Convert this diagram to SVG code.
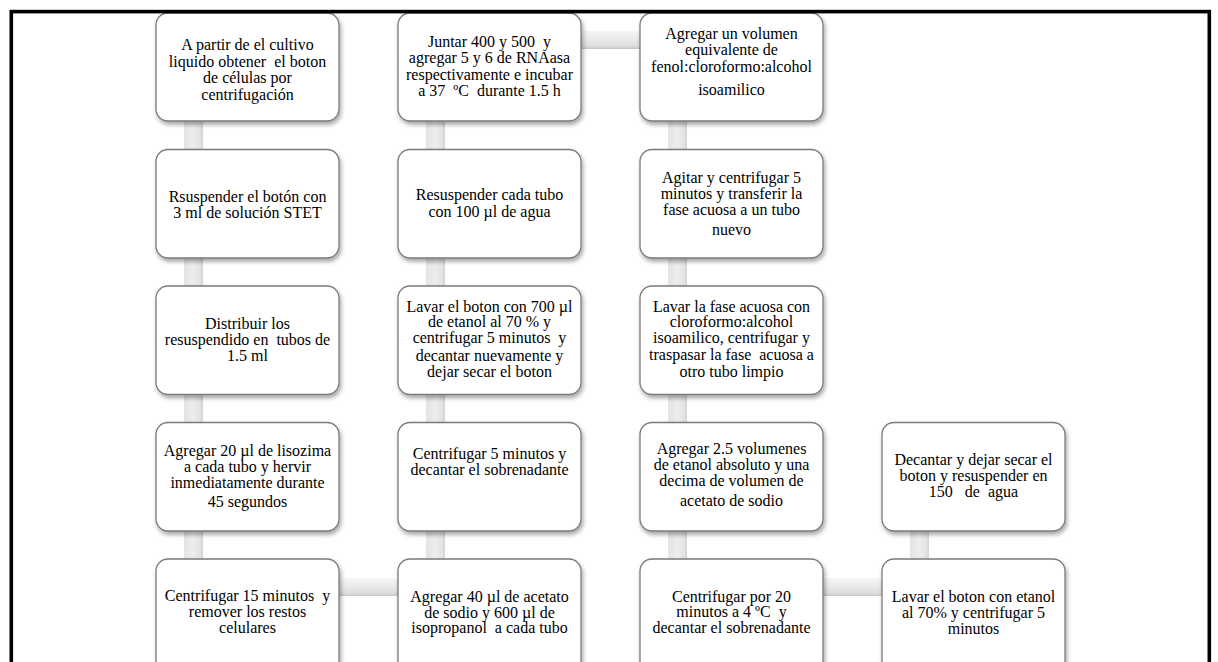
<svg xmlns="http://www.w3.org/2000/svg" width="1218" height="662" viewBox="0 0 1218 662" xml:space="preserve">
<defs>
<style>
.box{fill:#ffffff;stroke:#7a7a7a;stroke-width:1.3;filter:url(#sh)}
.t{font-family:"Liberation Serif","Times New Roman",serif;font-size:16px;fill:#000;text-anchor:middle;white-space:pre}
.cv{fill:url(#gv)}
.ch{fill:url(#gh)}
.ev{stroke:#cdcdcd;stroke-width:1}
</style>
<filter id="sh" x="-10%" y="-10%" width="125%" height="130%">
<feDropShadow dx="1.5" dy="3" stdDeviation="2" flood-color="#000" flood-opacity="0.35"/>
</filter>
<linearGradient id="gv" x1="0" y1="0" x2="1" y2="0">
<stop offset="0" stop-color="#e4e4e4"/>
<stop offset="0.5" stop-color="#ededed"/>
<stop offset="0.85" stop-color="#e3e3e3"/>
<stop offset="1" stop-color="#d2d2d2"/>
</linearGradient>
<linearGradient id="gh" x1="0" y1="0" x2="0" y2="1">
<stop offset="0" stop-color="#f6f6f6"/>
<stop offset="0.6" stop-color="#e6e6e6"/>
<stop offset="0.88" stop-color="#dadada"/>
<stop offset="1" stop-color="#c4c4c4"/>
</linearGradient>
</defs>
<rect x="0" y="0" width="1218" height="662" fill="#ffffff"/>
<g id="connectors">
<rect class="cv" x="184" y="115" width="19" height="40"/>
<rect class="cv" x="184" y="252" width="19" height="40"/>
<rect class="cv" x="184" y="388" width="19" height="40"/>
<rect class="cv" x="184" y="525" width="19" height="40"/>
<rect class="ch" x="335" y="578" width="68" height="18"/>
<rect class="cv" x="426" y="115" width="19" height="40"/>
<rect class="cv" x="426" y="252" width="19" height="40"/>
<rect class="cv" x="426" y="388" width="19" height="40"/>
<rect class="cv" x="426" y="525" width="19" height="40"/>
<rect class="ch" x="577" y="31" width="68" height="18"/>
<rect class="cv" x="668" y="115" width="19" height="40"/>
<rect class="cv" x="668" y="252" width="19" height="40"/>
<rect class="cv" x="668" y="388" width="19" height="40"/>
<rect class="cv" x="668" y="525" width="19" height="40"/>
<rect class="ch" x="819" y="578" width="68" height="18"/>
<rect class="cv" x="910" y="525" width="19" height="40"/>
</g>
<g id="n1"><rect class="box" x="156" y="13" width="183" height="108" rx="12"/>
<text class="t" x="247.5" y="49.5">A partir de el cultivo</text>
<text class="t" x="247.5" y="66.5">liquido obtener  el boton</text>
<text class="t" x="247.5" y="83">de células por</text>
<text class="t" x="247.5" y="100">centrifugación</text></g>
<g id="n2"><rect class="box" x="156" y="149.5" width="183" height="108.5" rx="12"/>
<text class="t" x="247.5" y="202">Rsuspender el botón con</text>
<text class="t" x="247.5" y="218">3 ml de solución STET</text></g>
<g id="n3"><rect class="box" x="156" y="286" width="183" height="108.5" rx="12"/>
<text class="t" x="247.5" y="329">Distribuir los</text>
<text class="t" x="247.5" y="345">resuspendido en  tubos de</text>
<text class="t" x="247.5" y="361">1.5 ml</text></g>
<g id="n4"><rect class="box" x="156" y="422.5" width="183" height="108.5" rx="12"/>
<text class="t" x="247.5" y="456">Agregar 20 µl de lisozima</text>
<text class="t" x="247.5" y="472">a cada tubo y hervir</text>
<text class="t" x="247.5" y="488">inmediatamente durante</text>
<text class="t" x="247.5" y="507">45 segundos</text></g>
<g id="n5"><rect class="box" x="156" y="559" width="183" height="120" rx="12"/>
<text class="t" x="247.5" y="601">Centrifugar 15 minutos  y</text>
<text class="t" x="247.5" y="617">remover los restos</text>
<text class="t" x="247.5" y="633">celulares</text></g>
<g id="n6"><rect class="box" x="398" y="559" width="183" height="120" rx="12"/>
<text class="t" x="489.5" y="601.5">Agregar 40 µl de acetato</text>
<text class="t" x="489.5" y="617.5">de sodio y 600 µl de</text>
<text class="t" x="489.5" y="633">isopropanol  a cada tubo</text></g>
<g id="n7"><rect class="box" x="398" y="422.5" width="183" height="108.5" rx="12"/>
<text class="t" x="489.5" y="459">Centrifugar 5 minutos y</text>
<text class="t" x="489.5" y="475">decantar el sobrenadante</text></g>
<g id="n8"><rect class="box" x="398" y="286" width="183" height="108.5" rx="12"/>
<text class="t" x="489.5" y="311.5">Lavar el boton con 700 µl</text>
<text class="t" x="489.5" y="327">de etanol al 70 % y</text>
<text class="t" x="489.5" y="343">centrifugar 5 minutos  y</text>
<text class="t" x="489.5" y="360.5">decantar nuevamente y</text>
<text class="t" x="489.5" y="376.5">dejar secar el boton</text></g>
<g id="n9"><rect class="box" x="398" y="149.5" width="183" height="108.5" rx="12"/>
<text class="t" x="489.5" y="200">Resuspender cada tubo</text>
<text class="t" x="489.5" y="216.5">con 100 µl de agua</text></g>
<g id="n10"><rect class="box" x="398" y="13" width="183" height="108" rx="12"/>
<text class="t" x="489.5" y="46.5">Juntar 400 y 500  y</text>
<text class="t" x="489.5" y="63">agregar 5 y 6 de RNAasa</text>
<text class="t" x="489.5" y="79.5">respectivamente e incubar</text>
<text class="t" x="489.5" y="96">a 37  ºC  durante 1.5 h</text></g>
<g id="n11"><rect class="box" x="640" y="13" width="183" height="108" rx="12"/>
<text class="t" x="731.5" y="39">Agregar un volumen</text>
<text class="t" x="731.5" y="55">equivalente de</text>
<text class="t" x="731.5" y="71.5">fenol:cloroformo:alcohol</text>
<text class="t" x="731.5" y="94.5">isoamilico</text></g>
<g id="n12"><rect class="box" x="640" y="149.5" width="183" height="108.5" rx="12"/>
<text class="t" x="731.5" y="183">Agitar y centrifugar 5</text>
<text class="t" x="731.5" y="199">minutos y transferir la</text>
<text class="t" x="731.5" y="215">fase acuosa a un tubo</text>
<text class="t" x="731.5" y="235">nuevo</text></g>
<g id="n13"><rect class="box" x="640" y="286" width="183" height="108.5" rx="12"/>
<text class="t" x="731.5" y="311.5">Lavar la fase acuosa con</text>
<text class="t" x="731.5" y="327">cloroformo:alcohol</text>
<text class="t" x="731.5" y="343">isoamilico, centrifugar y</text>
<text class="t" x="731.5" y="360">traspasar la fase  acuosa a</text>
<text class="t" x="731.5" y="376.5">otro tubo limpio</text></g>
<g id="n14"><rect class="box" x="640" y="422.5" width="183" height="108.5" rx="12"/>
<text class="t" x="731.5" y="454">Agregar 2.5 volumenes</text>
<text class="t" x="731.5" y="470">de etanol absoluto y una</text>
<text class="t" x="731.5" y="485.5">decima de volumen de</text>
<text class="t" x="731.5" y="506">acetato de sodio</text></g>
<g id="n15"><rect class="box" x="640" y="559" width="183" height="120" rx="12"/>
<text class="t" x="731.5" y="601.5">Centrifugar por 20</text>
<text class="t" x="731.5" y="617">minutos a 4 ºC  y</text>
<text class="t" x="731.5" y="633">decantar el sobrenadante</text></g>
<g id="n16"><rect class="box" x="882" y="559" width="183" height="120" rx="12"/>
<text class="t" x="973.5" y="601.5">Lavar el boton con etanol</text>
<text class="t" x="973.5" y="617.5">al 70% y centrifugar 5</text>
<text class="t" x="973.5" y="633.5">minutos</text></g>
<g id="n17"><rect class="box" x="882" y="422.5" width="183" height="108.5" rx="12"/>
<text class="t" x="973.5" y="465">Decantar y dejar secar el</text>
<text class="t" x="973.5" y="481">boton y resuspender en</text>
<text class="t" x="973.5" y="497">150   de  agua</text></g>
<rect id="frame" x="11.3" y="11.6" width="1198" height="700" fill="none" stroke="#000" stroke-width="3.6"/>
</svg>
